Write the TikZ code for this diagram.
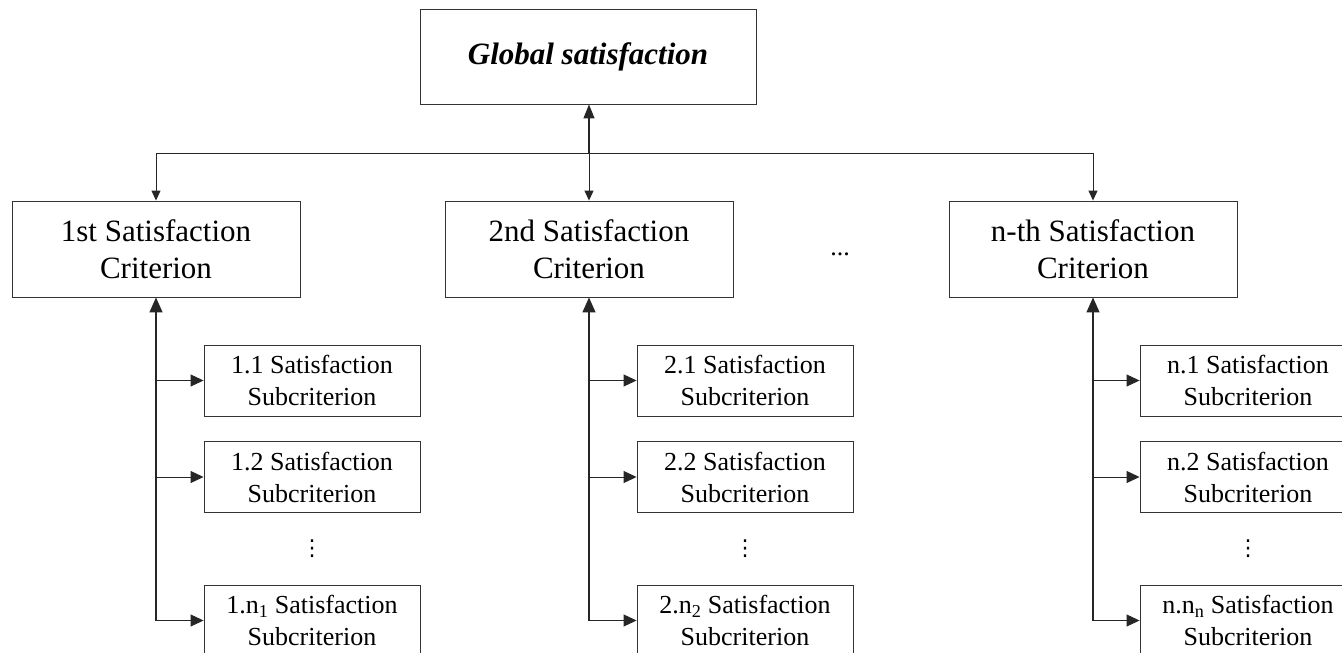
\documentclass[tikz,border=0pt]{standalone}
\usepackage{fontspec}
\setmainfont{Liberation Serif}
\newfontfamily\dvfont{DejaVu Sans}
\usetikzlibrary{arrows.meta}
\tikzset{
  box/.style={draw=black!80, line width=0.9pt, inner sep=0pt, align=center},
  globbox/.style={box, minimum width=336pt, minimum height=95pt, font=\fontsize{31}{37}\selectfont\bfseries\itshape},
  critbox/.style={box, minimum width=288pt, minimum height=96pt, font=\fontsize{31}{37}\selectfont},
  subbox/.style={box, minimum width=216pt, minimum height=71pt, font=\fontsize{26}{32}\selectfont},
  conn/.style={draw=black!85, line width=1pt},
  downarr/.style={conn, -{Triangle[length=10pt,width=9pt]}},
  sidearr/.style={conn, -{Triangle[length=13pt,width=12pt]}},
  uparr/.style={conn, line width=1.4pt, -{Triangle[length=15pt,width=13pt]}},
  dotsnode/.style={inner sep=0pt, font=\fontsize{26}{32}\selectfont},
  vdotsnode/.style={inner sep=0pt, font=\dvfont\fontsize{22}{26}\selectfont},
}
\begin{document}
\begin{tikzpicture}[x=1pt,y=-1pt]
\useasboundingbox (0,0) rectangle (1342,653);
\clip (0,0) rectangle (1342,653);

\node[globbox] (glob) at (588,56.5) {Global satisfaction};

\node[critbox] (c1) at (156,249) {1st Satisfaction\\Criterion};
\node[critbox] (c2) at (589,249) {2nd Satisfaction\\Criterion};
\node[critbox] (c3) at (1093,249) {n-th Satisfaction\\Criterion};
\node[dotsnode] (hdots) at (840,254) {...};

\coordinate (bus) at (589,153);

% column 1
\node[subbox] (s11) at (312,380.5) {1.1 Satisfaction\\Subcriterion};
\node[subbox] (s12) at (312,477) {1.2 Satisfaction\\Subcriterion};
\node[vdotsnode] (v1) at (312,549) {⋮};
\node[subbox] (s1n) at (312,620.5) {1.n\textsubscript{1} Satisfaction\\Subcriterion};
% column 2
\node[subbox] (s21) at (745,380.5) {2.1 Satisfaction\\Subcriterion};
\node[subbox] (s22) at (745,477) {2.2 Satisfaction\\Subcriterion};
\node[vdotsnode] (v2) at (745,549) {⋮};
\node[subbox] (s2n) at (745,620.5) {2.n\textsubscript{2} Satisfaction\\Subcriterion};
% column 3
\node[subbox] (s31) at (1248,380.5) {n.1 Satisfaction\\Subcriterion};
\node[subbox] (s32) at (1248,477) {n.2 Satisfaction\\Subcriterion};
\node[vdotsnode] (v3) at (1248,549) {⋮};
\node[subbox] (s3n) at (1248,620.5) {n.n\textsubscript{n} Satisfaction\\Subcriterion};

% top connectors
\draw[conn] (bus -| c1.north) -- (bus -| c3.north);
\draw[conn, line width=1.3pt, {Triangle[length=14pt,width=11pt]}-] (glob.south -| c2.north) -- (bus);
\draw[downarr] (bus) -- (c2.north);
\draw[downarr] (bus -| c1.north) -- (c1.north);
\draw[downarr] (bus -| c3.north) -- (c3.north);

% column trunks
\draw[uparr] (s1n.west -| c1.south) -- (c1.south);
\draw[uparr] (s2n.west -| c2.south) -- (c2.south);
\draw[uparr] (s3n.west -| c3.south) -- (c3.south);

% branches
\foreach \c/\s in {c1/s11,c1/s12,c1/s1n,c2/s21,c2/s22,c2/s2n,c3/s31,c3/s32,c3/s3n}{
  \draw[sidearr] (\s.west -| \c.south) -- (\s.west);
}
\end{tikzpicture}
\end{document}
